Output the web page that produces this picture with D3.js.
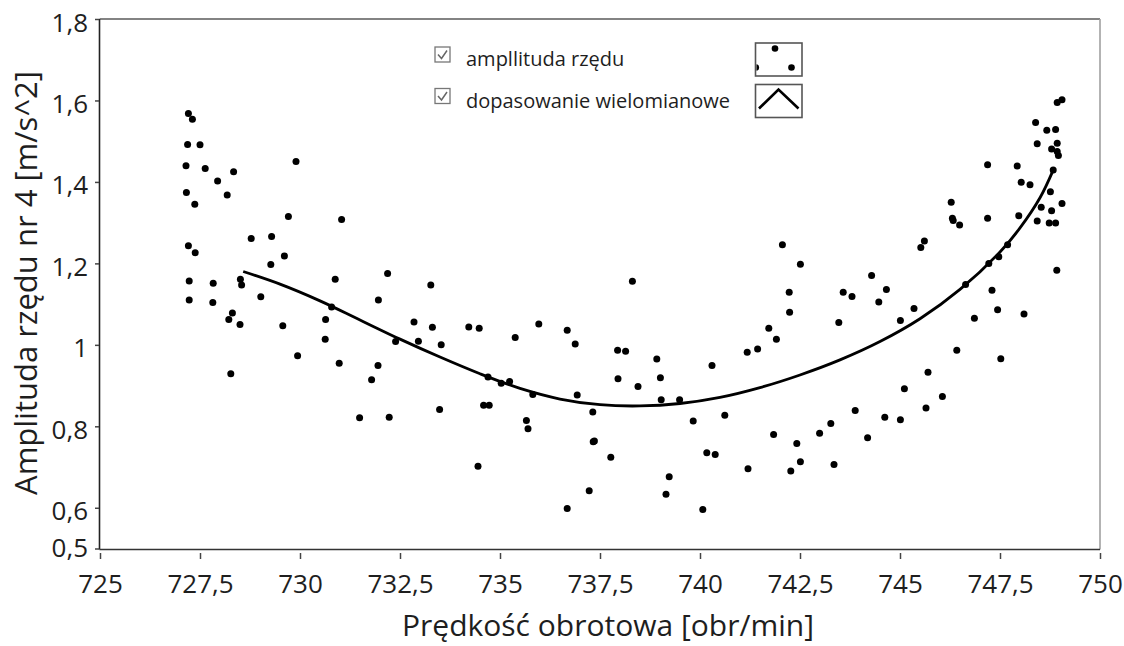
<!DOCTYPE html>
<html>
<head>
<meta charset="utf-8">
<script src="https://cdn.jsdelivr.net/npm/d3@7"></script>
<style>
  body { margin: 0; background: #fff; }
  text { font-family: "Open Sans", sans-serif; fill: #1e1e1e; }
</style>
</head>
<body>
<div id="chart"></div>
<script>
// measured points: rotational speed [obr/min] and order amplitude [m/s^2]
let speed = [
  727.21,727.31,727.19,727.5,727.15,727.63,728.34,727.94,729.90,727.16,
  728.18,727.37,729.71,731.04,728.78,729.29,727.21,727.38,729.61,729.27,
  727.23,727.83,728.51,728.54,730.88,729.02,727.23,727.82,728.31,728.22,
  728.50,729.57,730.79,730.64,730.63,729.94,730.98,728.27,732.19,733.27,
  731.96,732.85,733.31,734.22,734.48,732.39,732.96,733.53,731.95,731.79,
  734.70,734.59,734.73,733.49,731.49,732.23,734.45,735.03,735.24,735.38,
  735.97,736.68,736.88,735.82,736.93,735.66,735.70,737.32,737.33,737.36,
  737.77,737.23,736.68,737.94,738.14,738.31,737.95,738.45,738.92,739.01,
  739.03,739.49,739.15,739.23,739.83,740.07,740.17,740.38,740.30,740.62,
  741.18,741.44,741.72,741.91,742.24,741.20,741.84,742.27,742.42,742.51,
  742.06,742.51,742.23,746.28,746.31,746.33,746.49,745.61,745.52,744.29,
  743.58,743.80,744.66,744.47,743.47,745.35,745.01,746.42,745.70,745.11,
  746.06,743.88,745.65,744.62,745.01,743.27,742.99,744.19,743.35,748.93,
  749.05,748.39,748.67,748.89,748.43,748.93,748.79,748.93,748.96,747.19,
  747.93,748.83,748.03,748.25,748.76,748.53,748.79,749.05,748.43,748.73,
  748.89,747.97,747.19,747.69,747.47,747.22,748.92,746.64,747.30,747.44,
  748.10,746.86,747.52
];
let amplitude = [
  1.568,1.554,1.492,1.491,1.440,1.433,1.425,1.402,1.450,1.374,
  1.368,1.345,1.315,1.308,1.261,1.266,1.243,1.226,1.218,1.197,
  1.157,1.151,1.161,1.147,1.161,1.118,1.110,1.104,1.078,1.062,
  1.050,1.047,1.093,1.062,1.014,0.973,0.955,0.929,1.175,1.147,
  1.110,1.056,1.043,1.044,1.041,1.008,1.009,1.000,0.949,0.914,
  0.921,0.852,0.852,0.841,0.821,0.822,0.702,0.906,0.910,1.018,
  1.051,1.036,1.002,0.878,0.877,0.814,0.794,0.835,0.762,0.764,
  0.724,0.642,0.598,0.987,0.984,1.156,0.917,0.898,0.965,0.919,
  0.865,0.865,0.633,0.676,0.813,0.596,0.735,0.731,0.949,0.827,
  0.982,0.990,1.041,1.014,1.080,0.696,0.780,0.690,0.758,0.713,
  1.246,1.198,1.129,1.350,1.311,1.305,1.294,1.255,1.239,1.170,
  1.129,1.119,1.136,1.105,1.055,1.089,1.060,0.987,0.933,0.892,
  0.873,0.839,0.845,0.822,0.816,0.807,0.783,0.772,0.706,1.595,
  1.602,1.546,1.527,1.529,1.494,1.495,1.481,1.475,1.465,1.442,
  1.439,1.429,1.399,1.393,1.376,1.338,1.329,1.347,1.304,1.299,
  1.299,1.317,1.311,1.246,1.216,1.200,1.183,1.148,1.134,1.086,
  1.076,1.065,0.966
];

// polynomial fit
let fitSpeed = [728.58,729.5,730.5,731.5,732.5,733.5,734.5,735.5,736.5,737.5,738.5,739.5,
  740.5,741.5,742.5,743.5,744.5,745.5,746.5,747.5,748.0,748.5,748.83];
let fitAmplitude = [1.180,1.149,1.108,1.061,1.014,0.970,0.929,0.893,0.867,0.853,0.850,0.856,
  0.871,0.895,0.926,0.963,1.008,1.064,1.136,1.228,1.287,1.361,1.429];

let xTicks = [725, 727.5, 730, 732.5, 735, 737.5, 740, 742.5, 745, 747.5, 750];
let yTicks = [0.5, 0.6, 0.8, 1, 1.2, 1.4, 1.6, 1.8];
let legendNames = ["ampllituda rzędu", "dopasowanie wielomianowe"];

let W = 1124, H = 646;
let frameL = 99.5, frameR = 1100, frameT = 19, frameB = 549.5;

let svg = d3.select("#chart").append("svg")
  .attr("width", W)
  .attr("height", H);

let x = d3.scaleLinear().domain([725, 750]).range([100, 1100]);
let y = d3.scaleLinear().domain([0.5, 1.8]).range([548.5, 19]);

//polish decimal comma
let fmt = d => String(d).replace(".", ",");

// frame: dark left/bottom, lighter top/right
svg.append("line")
  .attr("x1", frameL).attr("y1", frameT).attr("x2", frameR).attr("y2", frameT)
  .attr("stroke", "#5a5a5a").attr("stroke-width", 1.6);
svg.append("line")
  .attr("x1", frameR).attr("y1", frameT).attr("x2", frameR).attr("y2", frameB)
  .attr("stroke", "#a0a0a0").attr("stroke-width", 1.6);
svg.append("line")
  .attr("x1", frameL).attr("y1", frameT).attr("x2", frameL).attr("y2", frameB)
  .attr("stroke", "#222").attr("stroke-width", 1.6);
svg.append("line")
  .attr("x1", frameL).attr("y1", frameB).attr("x2", frameR).attr("y2", frameB)
  .attr("stroke", "#333").attr("stroke-width", 1.6);

// axes
let xAxis = svg.append("g")
  .attr("transform", "translate(0,553)")
  .call(d3.axisBottom(x).tickValues(xTicks).tickSize(6).tickSizeOuter(0).tickFormat(fmt));
xAxis.select(".domain").remove();
xAxis.selectAll(".tick line").attr("stroke", "#444").attr("stroke-width", 1.5);
xAxis.selectAll(".tick text")
  .attr("y", 40).attr("dy", null)
  .attr("font-size", 26)
  .style("font-family", "'Open Sans', sans-serif")
  .style("fill", "#1e1e1e");

let yAxis = svg.append("g")
  .attr("transform", "translate(99,0)")
  .call(d3.axisLeft(y).tickValues(yTicks).tickSize(4).tickSizeOuter(0).tickPadding(7).tickFormat(fmt));
yAxis.select(".domain").remove();
yAxis.selectAll(".tick line").attr("stroke", "#444").attr("stroke-width", 1.5);
yAxis.selectAll(".tick text")
  .attr("dy", d => d === 0.5 ? 8 : 12)
  .attr("font-size", 26)
  .style("font-family", "'Open Sans', sans-serif")
  .style("fill", "#1e1e1e");

// axis titles
svg.append("text")
  .attr("x", 608).attr("y", 636)
  .attr("text-anchor", "middle")
  .attr("font-size", 30)
  .text("Prędkość obrotowa [obr/min]");

svg.append("text")
  .attr("transform", "translate(37,283) rotate(-90)")
  .attr("text-anchor", "middle")
  .attr("font-size", 31)
  .text("Amplituda rzędu nr 4 [m/s^2]");

// fitted curve
let fit = fitSpeed.map((s, i) => ({s: s, a: fitAmplitude[i]}));
let line = d3.line()
  .x(d => x(d.s))
  .y(d => y(d.a))
  .curve(d3.curveCatmullRom);

svg.append("path")
  .datum(fit)
  .attr("d", line)
  .attr("fill", "none")
  .attr("stroke", "#000")
  .attr("stroke-width", 2.8);

// scatter
let pts = speed.map((s, i) => ({s: s, a: amplitude[i]}));
svg.selectAll(".dot").data(pts).enter()
  .append("circle")
    .attr("class", "dot")
    .attr("cx", d => x(d.s))
    .attr("cy", d => y(d.a))
    .attr("r", 3.5)
    .attr("fill", "#000");

// legend
let legend = svg.append("g");
let rows = legend.selectAll(".row").data(legendNames).enter()
  .append("g")
    .attr("class", "row")
    .attr("transform", (d, i) => "translate(0," + (i * 41.5) + ")");

rows.append("rect")
  .attr("x", 435).attr("y", 47)
  .attr("width", 15).attr("height", 15)
  .attr("fill", "#fff").attr("stroke", "#777").attr("stroke-width", 1.3);
rows.append("path")
  .attr("d", "M438,54.5 L441.5,58.5 L447,50.5")
  .attr("fill", "none").attr("stroke", "#666").attr("stroke-width", 1.5);
rows.append("text")
  .attr("x", 466).attr("y", 66)
  .attr("font-size", 20)
  .text(d => d);

// sample boxes
rows.append("rect")
  .attr("x", 755.5).attr("y", 43)
  .attr("width", 46.5).attr("height", 33)
  .attr("fill", "#fff").attr("stroke", "#555").attr("stroke-width", 1.6);

svg.append("defs").append("clipPath").attr("id", "sclip")
  .append("rect").attr("x", 756.5).attr("y", 44).attr("width", 44.5).attr("height", 31);

legend.append("g").attr("clip-path", "url(#sclip)")
  .selectAll("circle").data([[775, 48.5], [791.5, 67.5], [755.8, 67.5]]).enter()
  .append("circle")
    .attr("cx", d => d[0]).attr("cy", d => d[1])
    .attr("r", 3.3).attr("fill", "#000");

legend.append("path")
  .attr("d", "M759,108.5 L778.5,89.5 L798.5,108.5")
  .attr("fill", "none").attr("stroke", "#000").attr("stroke-width", 2.6);
</script>
</body>
</html>
